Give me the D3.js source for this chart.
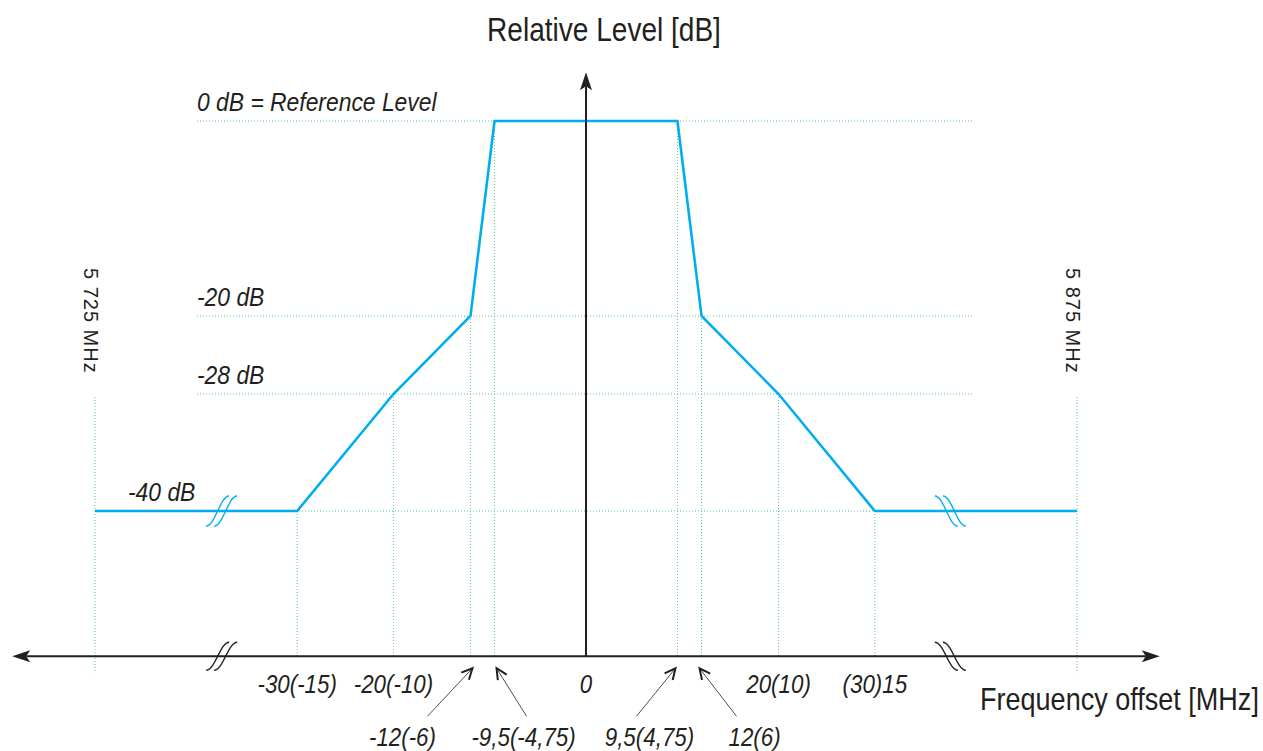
<!DOCTYPE html>
<html>
<head>
<meta charset="utf-8">
<script src="https://cdn.jsdelivr.net/npm/d3@7"></script>
<style>
  body { margin: 0; background: #fff; }
  text { font-family: "Liberation Sans", Arial, sans-serif; fill: #231f20; }
  .it { font-style: italic; }
</style>
</head>
<body>
<svg id="mask" width="1263" height="751"></svg>
<script>
// spectrum mask corners: offset from carrier [MHz] and relative level [dB]
const maskOffsets = [-30, -20, -12, -9.5, 9.5, 12, 20, 30];
const maskLevels = [-40, -28, -20, 0, 0, -20, -28, -40];

const levelValues = [0, -20, -28, -40];
const levelLabels = ["0 dB = Reference Level", "-20 dB", "-28 dB", "-40 dB"];

const tickValues = [-30, -20, 0, 20, 30];
const tickLabels = ["-30(-15)", "-20(-10)", "0", "20(10)", "(30)15"];

const pointerValues = [-12, -9.5, 9.5, 12];
const pointerLabels = ["-12(-6)", "-9,5(-4,75)", "9,5(4,75)", "12(6)"];

const edgeLabels = ["5 725 MHz", "5 875 MHz"];

// the axis is broken, so band edges and break marks sit at nominal offsets
const edgeOffset = 51;
const breakOffset = 38;
const axisSpan = 59.6;
const axisFloor = -54.9;
const axisTop = 5;

var svg = d3.select("svg#mask");

var x = d3.scaleLinear().domain([-edgeOffset, edgeOffset]).range([95, 1077]);
var y = d3.scaleLinear().domain([0, -40]).range([121, 511]);

var ink = "#231f20";
var grid = "#5cc49a";
var blue = "#00aeef";

var y0 = y(axisFloor);

// condensed look: no narrow font installed, so squeeze horizontally
function label(tx, ty, str, opts) {
    var t = svg.append("text")
        .attr("transform", "translate(" + tx + "," + ty + ")" + (opts.rotate ? " rotate(" + opts.rotate + ")" : "") + " scale(" + (opts.sx || 1) + ",1)")
        .attr("text-anchor", opts.anchor || "start")
        .style("font-size", opts.size + "px")
        .text(str);
    if (opts.italic) t.attr("class", "it");
    if (opts.spacing) t.style("letter-spacing", opts.spacing + "px");
    return t;
}

// Dotted guides - horizontal
levelValues.forEach(function(v) {
    var x1 = v === -40 ? x(-edgeOffset) : 197;
    var x2 = v === -40 ? x(edgeOffset) : 973;
    svg.append("line")
        .attr("x1", x1).attr("x2", x2)
        .attr("y1", y(v)).attr("y2", y(v))
        .attr("stroke", grid).attr("stroke-width", 1)
        .attr("stroke-dasharray", "1,2");
});

// Dotted guides - vertical at mask corners
maskOffsets.forEach(function(o, i) {
    svg.append("line")
        .attr("x1", x(o)).attr("x2", x(o))
        .attr("y1", y(maskLevels[i])).attr("y2", y0)
        .attr("stroke", grid).attr("stroke-width", 1)
        .attr("stroke-dasharray", "1,2");
});

// band edges
[-edgeOffset, edgeOffset].forEach(function(o) {
    svg.append("line")
        .attr("x1", x(o)).attr("x2", x(o))
        .attr("y1", 397).attr("y2", y0 + 17)
        .attr("stroke", grid).attr("stroke-width", 1)
        .attr("stroke-dasharray", "1,2");
});

// Mask line
var pts = [[-edgeOffset, -40]];
maskOffsets.forEach(function(o, i) { pts.push([o, maskLevels[i]]); });
pts.push([edgeOffset, -40]);

var line = d3.line()
    .x((d) => x(d[0]))
    .y((d) => y(d[1]));

svg.append("path")
    .datum(pts)
    .attr("fill", "none")
    .attr("stroke", blue)
    .attr("stroke-width", 2.6)
    .attr("stroke-linejoin", "miter")
    .attr("d", line);

// Axes
svg.append("line")
    .attr("x1", x(-axisSpan) + 14).attr("x2", x(axisSpan) - 14)
    .attr("y1", y0).attr("y2", y0)
    .attr("stroke", ink).attr("stroke-width", 2);

svg.append("line")
    .attr("x1", x(0)).attr("x2", x(0))
    .attr("y1", y0).attr("y2", y(axisTop) + 14)
    .attr("stroke", ink).attr("stroke-width", 2);

function arrowHead(tx, ty, dx, dy) {
    // filled triangle pointing along (dx,dy)
    var len = 18, half = 6;
    var bx = tx - dx * len, by = ty - dy * len;
    return "M" + tx + "," + ty +
        "L" + (bx - dy * half) + "," + (by + dx * half) +
        "L" + (bx + dx * 4) + "," + (by + dy * 4) +
        "L" + (bx + dy * half) + "," + (by - dx * half) + "Z";
}

svg.append("path").attr("d", arrowHead(x(-axisSpan), y0, -1, 0)).attr("fill", ink);
svg.append("path").attr("d", arrowHead(x(axisSpan), y0, 1, 0)).attr("fill", ink);
svg.append("path").attr("d", arrowHead(x(0), y(axisTop), 0, -1)).attr("fill", ink);

// Break marks (double S strokes)
function breakPath(cx, cy, side, h, w) {
    // side -1 = left break, +1 = right break (mirrored)
    var d = "";
    [0, 1].forEach(function(k) {
        var sx = cx + side * (-9 - k * 8);
        var ex = cx + side * (w - k * 8);
        d += "M" + sx + "," + (cy - h) +
            "C" + (sx + side * 9) + "," + (cy - h) + " " +
            (ex - side * 9) + "," + (cy + h) + " " +
            ex + "," + (cy + h);
    });
    return d;
}

svg.append("path")
    .attr("d", breakPath(x(-breakOffset), y0, -1, 14, 14))
    .attr("fill", "none").attr("stroke", ink).attr("stroke-width", 1.4);
svg.append("path")
    .attr("d", breakPath(x(breakOffset), y0, 1, 14, 14))
    .attr("fill", "none").attr("stroke", ink).attr("stroke-width", 1.4);
svg.append("path")
    .attr("d", breakPath(x(-breakOffset), y(-40), -1, 15, 14))
    .attr("fill", "none").attr("stroke", blue).attr("stroke-width", 1.4);
svg.append("path")
    .attr("d", breakPath(x(breakOffset), y(-40), 1, 15, 14))
    .attr("fill", "none").attr("stroke", blue).attr("stroke-width", 1.4);

// Titles
label(x(0) + 18, 41, "Relative Level [dB]", { size: 33, sx: 0.85, anchor: "middle" });
label(980, 710, "Frequency offset [MHz]", { size: 32, sx: 0.845 });

// Level labels
levelValues.forEach(function(v, i) {
    label(v === -40 ? 128 : 197, y(v) - 10, levelLabels[i], { size: 26, sx: 0.88, italic: true });
});

// Band edge labels (rotated)
[-edgeOffset, edgeOffset].forEach(function(o, i) {
    label(x(o) - 11, 268, edgeLabels[i], { size: 20, rotate: 90, spacing: 1 });
});

// Tick labels on the axis
tickValues.forEach(function(v, i) {
    label(x(v), y0 + 37, tickLabels[i], { size: 26, sx: 0.86, italic: true, anchor: "middle" });
});

// Pointer labels with arrows
var pointerShift = [-68, 29, -28, 53];
var arrowTail = [-43, 32, -41, 35];

pointerValues.forEach(function(v, i) {
    var tx = x(v);
    label(tx + pointerShift[i], y0 + 90, pointerLabels[i], { size: 26, sx: 0.86, italic: true, anchor: "middle" });

    var sx = tx + arrowTail[i], sy = y0 + 60;
    var ex = tx + (v < 0 ? 2 : -2), ey = y0 + 12;
    svg.append("line")
        .attr("x1", sx).attr("y1", sy).attr("x2", ex).attr("y2", ey)
        .attr("stroke", ink).attr("stroke-width", 0.8);

    // open chevron head
    var ang = Math.atan2(ey - sy, ex - sx);
    var L = 12, a = 0.45;
    svg.append("path")
        .attr("d", "M" + (ex - L * Math.cos(ang - a)) + "," + (ey - L * Math.sin(ang - a)) +
            "L" + ex + "," + ey +
            "L" + (ex - L * Math.cos(ang + a)) + "," + (ey - L * Math.sin(ang + a)))
        .attr("fill", "none").attr("stroke", ink).attr("stroke-width", 2);
});
</script>
</body>
</html>
